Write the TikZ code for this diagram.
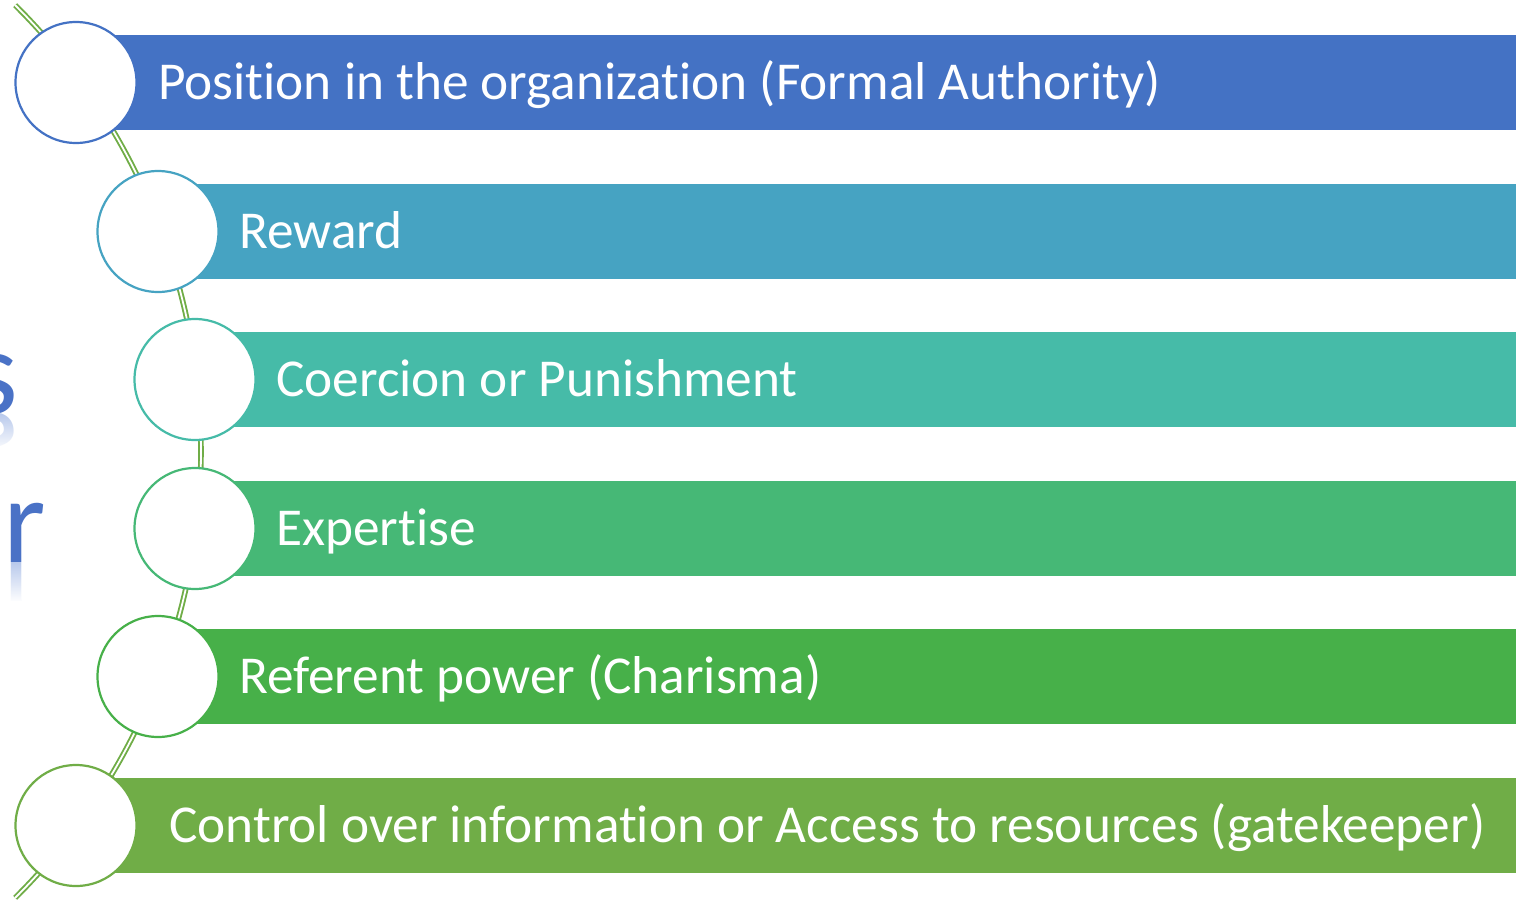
\documentclass[tikz,border=0pt]{standalone}
\usepackage{fontspec}
\setmainfont{Carlito}[RawFeature={-liga,-clig,-rlig,-calt,-dlig}]
\usetikzlibrary{fadings}
\definecolor{cA}{HTML}{4472C4}
\definecolor{cB}{HTML}{46A3C2}
\definecolor{cC}{HTML}{46BBA8}
\definecolor{cD}{HTML}{46B876}
\definecolor{cE}{HTML}{47B049}
\definecolor{cF}{HTML}{70AD47}
\definecolor{titleblue}{HTML}{4A72C6}
\definecolor{titlepale}{HTML}{B8C9EC}
\newcommand{\tI}{t\kern0pt i}
\begin{document}
\begin{tikzpicture}[x=1pt,y=-1pt,
  bar/.style={rectangle, inner sep=0pt, minimum height=95pt, anchor=west},
  ring/.style={circle, draw=#1, fill=white, line width=2.2pt, minimum size=121pt, inner sep=0pt},
  lbl/.style={anchor=base west, inner sep=0pt, text=white, font=\fontsize{53.3}{60}\selectfont},
  ttl/.style={inner sep=0pt, text=titleblue, font=\fontsize{122}{130}\selectfont},
  ttlr/.style={inner sep=0pt, text=titlepale, yscale=-1, font=\fontsize{122}{130}\selectfont}]
\useasboundingbox (0,0) rectangle (1516,900);
\clip (0,0) rectangle (1516,900);
% partial title letters
\node[ttl, anchor=base east] (ts) at (18,413) {s};
\node[ttl, anchor=base west] (tr) at (3,562) {r};
\node[ttlr, anchor=base east] (tsr) at (18,413) {s};
\node[ttlr, anchor=base west] (trr) at (3,562) {r};
\fill[white, path fading=north] (-5,413) rectangle (80,452);
\fill[white, path fading=north] (-5,562) rectangle (80,602);
\fill[white] (-5,451) rectangle (80,490);
\fill[white] (-5,601) rectangle (80,640);
% green double arc
\draw[cF, line width=1.9pt, double=white, double distance=1.8pt]
  (-428,451.5) ++(-45.2:629) arc[start angle=-45.2, end angle=45.2, radius=629];
% bars
\node[bar, fill=cA, minimum width=1450pt] (b1) at (76,82.5) {};
\node[bar, fill=cB, minimum width=1368pt] (b2) at (158,231.5) {};
\node[bar, fill=cC, minimum width=1331pt] (b3) at (195,379.5) {};
\node[bar, fill=cD, minimum width=1331pt] (b4) at (195,528.5) {};
\node[bar, fill=cE, minimum width=1368pt] (b5) at (158,676.5) {};
\node[bar, fill=cF, minimum width=1450pt] (b6) at (76,825.5) {};
% circles
\node[ring=cA] (c1) at (76,82.5) {};
\node[ring=cB] (c2) at (158,231.5) {};
\node[ring=cC] (c3) at (195,379.5) {};
\node[ring=cD] (c4) at (195,528.5) {};
\node[ring=cE] (c5) at (158,676.5) {};
\node[ring=cF] (c6) at (76,825.5) {};
% labels
\node[lbl] (l1) at (158,99.5) {Posi\tI on in the organiza\tI on (Formal Authority)};
\node[lbl] (l2) at (239,248.5) {Reward};
\node[lbl] (l3) at (276,396.5) {Coercion or Punishment};
\node[lbl] (l4) at (276,545.5) {Exper\tI se};
\node[lbl] (l5) at (239,693.5) {Referent power (Charisma)};
\node[lbl] (l6) at (169,842.5) {Control over informa\tI on or Access to resources (gatekeeper)};
\end{tikzpicture}
\end{document}
